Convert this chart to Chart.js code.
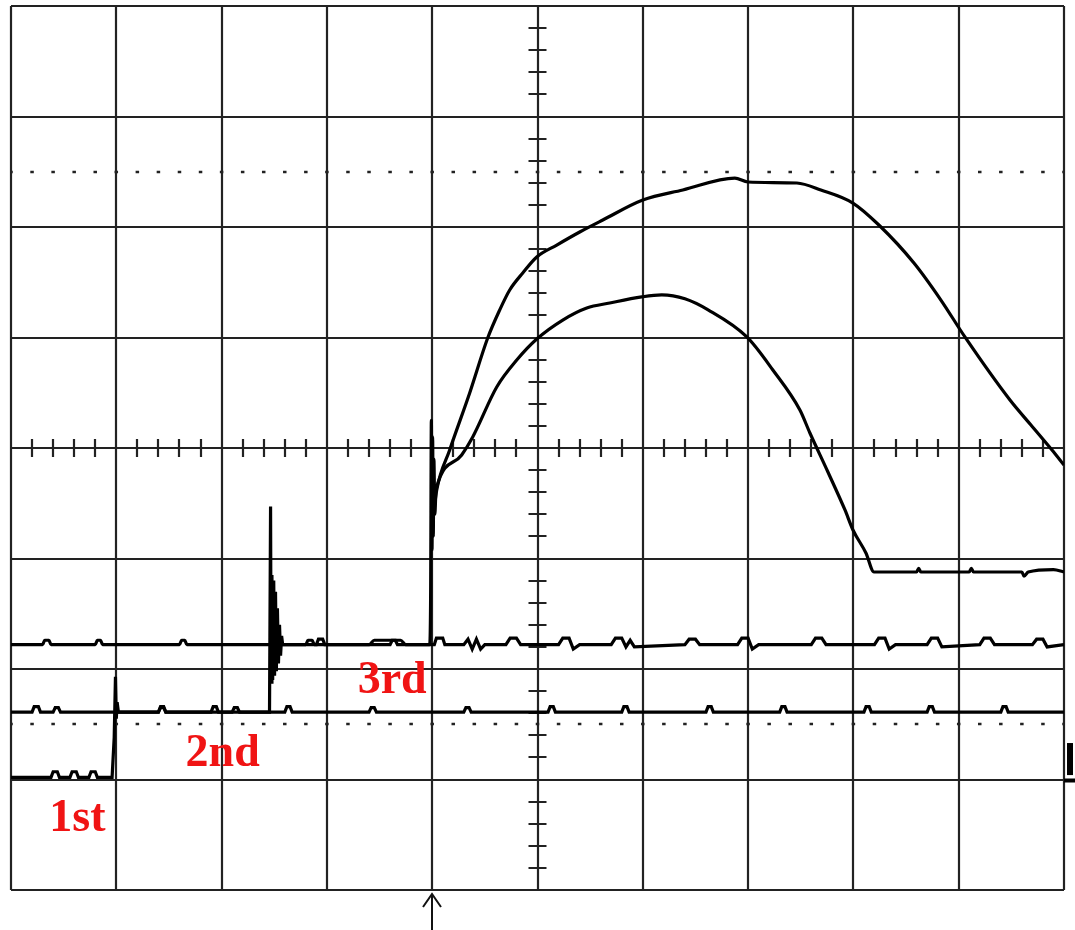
<!DOCTYPE html>
<html>
<head>
<meta charset="utf-8">
<script src="https://cdn.jsdelivr.net/npm/chart.js@4.4.1/dist/chart.umd.min.js"></script>
<style>
  html, body { margin: 0; padding: 0; background: #fff; }
</style>
</head>
<body>
<canvas id="scope" width="1075" height="930"></canvas>
<script>
// scope screen: 10 x 8 divisions, every value below is in divisions
let xMin = -5, xMax = 5, yMin = -4, yMax = 4;
let dottedLevels = [2.5, -2.5];
let triggerX = -1.005;

let labels = ['1st', '2nd', '3rd'];
let labelX = [-4.37, -2.99, -1.38];
let labelY = [-3.47, -2.88, -2.22];

// 1st trace: low level, steps up to the -2.39 line
let trace1 = [
  [-5.00,-2.98],[-4.62,-2.98],[-4.60,-2.93],[-4.56,-2.93],[-4.54,-2.98],[-4.44,-2.98],[-4.42,-2.93],
  [-4.38,-2.93],[-4.36,-2.98],[-4.26,-2.98],[-4.24,-2.93],[-4.20,-2.93],[-4.18,-2.98],[-4.04,-2.98],
  [-4.02,-2.62],[-4.008,-2.07],[-4.000,-2.45],[-3.992,-2.30],[-3.98,-2.39],
  [-3.60,-2.39],[-3.58,-2.34],[-3.55,-2.34],[-3.53,-2.39],[-3.10,-2.39],[-3.08,-2.34],[-3.05,-2.34],[-3.03,-2.39],
  [-2.40,-2.39],[-2.38,-2.34],[-2.35,-2.34],[-2.33,-2.39],[-1.60,-2.39],[-1.58,-2.35],[-1.55,-2.35],[-1.53,-2.39],
  [-0.70,-2.39],[-0.68,-2.35],[-0.65,-2.35],[-0.63,-2.39],[0.10,-2.39],[0.12,-2.34],[0.15,-2.34],[0.17,-2.39],
  [0.80,-2.39],[0.82,-2.34],[0.85,-2.34],[0.87,-2.39],[1.60,-2.39],[1.62,-2.34],[1.65,-2.34],[1.67,-2.39],
  [2.30,-2.39],[2.32,-2.34],[2.35,-2.34],[2.37,-2.39],[3.10,-2.39],[3.12,-2.34],[3.15,-2.34],[3.17,-2.39],
  [3.70,-2.39],[3.72,-2.34],[3.75,-2.34],[3.77,-2.39],[4.40,-2.39],[4.42,-2.34],[4.45,-2.34],[4.47,-2.39],
  [5.00,-2.39]
];

// 2nd trace: -2.39 line, spike, then the -1.78 line
let trace2 = [
  [-5.00,-2.39],[-4.80,-2.39],[-4.78,-2.34],[-4.74,-2.34],[-4.72,-2.39],[-4.60,-2.39],[-4.58,-2.35],
  [-4.55,-2.35],[-4.53,-2.39],[-3.60,-2.39],[-3.58,-2.35],[-3.55,-2.35],[-3.53,-2.39],[-2.90,-2.39],
  [-2.88,-2.35],[-2.85,-2.35],[-2.83,-2.39],[-2.545,-2.39],
  [-2.535,-0.53],[-2.530,-2.12],[-2.522,-1.15],[-2.515,-2.10],[-2.505,-1.20],[-2.497,-2.06],[-2.488,-1.30],
  [-2.480,-2.02],[-2.470,-1.45],[-2.460,-1.95],[-2.450,-1.60],[-2.440,-1.88],[-2.430,-1.70],[-2.420,-1.78],
  [-2.10,-1.78],[-2.08,-1.73],[-2.04,-1.73],[-2.02,-1.78],[-1.40,-1.78],[-1.38,-1.74],[-1.35,-1.74],[-1.33,-1.78],
  [-0.98,-1.78],[-0.96,-1.72],[-0.90,-1.72],[-0.88,-1.78],[-0.70,-1.78],[-0.66,-1.73],[-0.62,-1.82],
  [-0.58,-1.73],[-0.54,-1.82],[-0.50,-1.78],[-0.30,-1.78],[-0.26,-1.72],[-0.20,-1.72],[-0.16,-1.78],
  [0.20,-1.78],[0.24,-1.72],[0.30,-1.72],[0.34,-1.82],[0.40,-1.78],[0.70,-1.78],[0.74,-1.72],[0.80,-1.72],
  [0.84,-1.80],[0.88,-1.74],[0.92,-1.80],[1.40,-1.78],[1.44,-1.73],[1.50,-1.73],[1.54,-1.78],
  [1.90,-1.78],[1.94,-1.72],[2.00,-1.72],[2.04,-1.82],[2.10,-1.78],[2.60,-1.78],[2.64,-1.72],[2.70,-1.72],
  [2.74,-1.78],[3.20,-1.78],[3.24,-1.72],[3.30,-1.72],[3.34,-1.82],[3.40,-1.78],[3.70,-1.78],[3.74,-1.72],
  [3.80,-1.72],[3.84,-1.80],[4.20,-1.78],[4.24,-1.72],[4.30,-1.72],[4.34,-1.78],[4.70,-1.78],[4.74,-1.73],
  [4.80,-1.73],[4.84,-1.80],[5.00,-1.78]
];

// 3rd trace: -1.78 line, spike at trigger, small hump, settles at -1.12
let trace3 = [
  [-5.00,-1.78],[-4.70,-1.78],[-4.68,-1.74],[-4.64,-1.74],[-4.62,-1.78],[-4.20,-1.78],[-4.18,-1.74],
  [-4.15,-1.74],[-4.13,-1.78],[-3.40,-1.78],[-3.38,-1.74],[-3.35,-1.74],[-3.33,-1.78],[-2.20,-1.78],
  [-2.18,-1.74],[-2.14,-1.74],[-2.12,-1.78],[-1.60,-1.78],[-1.55,-1.74],[-1.30,-1.74],[-1.25,-1.78],
  [-1.025,-1.78],[-1.015,-1.35],[-1.008,0.25],[-1.002,-0.92],[-0.996,0.10],[-0.990,-0.80],[-0.984,-0.10],
  [-0.975,-0.60],[-0.965,-0.40],
  [-0.957,-0.353],[-0.720,-0.063],[-0.615,0.100],[-0.387,0.552],[-0.197,0.796],[-0.007,0.986],
  [0.240,1.158],[0.468,1.267],[0.686,1.312],[0.990,1.367],[1.180,1.385],[1.400,1.350],[1.620,1.250],
  [1.988,1.005],[2.235,0.706],[2.492,0.344],[2.587,0.136],[2.758,-0.217],[2.920,-0.561],[2.996,-0.742],
  [3.119,-0.950],[3.196,-1.122],
  [3.60,-1.122],[3.62,-1.09],[3.64,-1.122],[4.10,-1.122],[4.12,-1.09],[4.14,-1.122],[4.60,-1.122],
  [4.62,-1.16],[4.66,-1.122],[4.90,-1.10],[5.00,-1.122]
];

// big hump
let trace4 = [
  [-0.99,-0.62],[-0.957,-0.38],[-0.834,-0.018],[-0.644,0.498],[-0.473,0.995],[-0.359,1.249],[-0.264,1.430],
  [-0.140,1.584],[-0.007,1.729],[0.183,1.837],[0.401,1.955],[0.620,2.063],[1.000,2.244],[1.380,2.335],
  [1.874,2.443],[1.998,2.407],[2.463,2.398],[2.691,2.335],[2.995,2.217],[3.242,2.018],[3.575,1.674],
  [3.831,1.339],[4.059,1.005],[4.487,0.434],[4.686,0.208],[4.886,-0.018],[5.000,-0.154]
];

let traces = [trace1, trace2, trace3, trace4];

let scopeGrid = {
  id: 'scopeGrid',
  beforeDatasetsDraw(chart) {
    let {ctx, chartArea: a, scales: {x, y}} = chart;
    ctx.save();
    ctx.strokeStyle = '#222';
    ctx.lineWidth = 2.2;
    ctx.beginPath();
    for (let v = xMin; v <= xMax; v++) {
      let px = Math.round(x.getPixelForValue(v));
      ctx.moveTo(px, a.top); ctx.lineTo(px, a.bottom);
    }
    for (let v = yMin; v <= yMax; v++) {
      let py = Math.round(y.getPixelForValue(v));
      ctx.moveTo(a.left, py); ctx.lineTo(a.right, py);
    }
    ctx.stroke();

    // small ticks on the centre cross
    let cx = x.getPixelForValue(0), cy = y.getPixelForValue(0);
    ctx.beginPath();
    for (let k = 1; k < 50; k++) {
      if (k % 5 === 0) continue;
      let px = Math.round(x.getPixelForValue(xMin + k * 0.2));
      ctx.moveTo(px, cy - 9); ctx.lineTo(px, cy + 9);
    }
    for (let k = 1; k < 40; k++) {
      if (k % 5 === 0) continue;
      let py = Math.round(y.getPixelForValue(yMin + k * 0.2));
      ctx.moveTo(cx - 9, py); ctx.lineTo(cx + 9, py);
    }
    ctx.stroke();

    // dotted reference levels
    let step = x.width / 50;
    ctx.setLineDash([3.5, step - 3.5]);
    ctx.lineDashOffset = 1.75;
    ctx.strokeStyle = '#222';
    ctx.lineWidth = 2.5;
    ctx.beginPath();
    dottedLevels.forEach(v => {
      let py = Math.round(y.getPixelForValue(v));
      ctx.moveTo(a.left, py); ctx.lineTo(a.right, py);
    });
    ctx.stroke();
    ctx.restore();
  },
  afterDatasetsDraw(chart) {
    let {ctx, chartArea: a, scales: {x, y}} = chart;
    ctx.save();
    // trigger arrow under the screen
    let tx = Math.round(x.getPixelForValue(triggerX));
    ctx.strokeStyle = '#111';
    ctx.lineWidth = 2;
    ctx.beginPath();
    ctx.moveTo(tx, a.bottom + 4); ctx.lineTo(tx, chart.height);
    ctx.moveTo(tx - 9, a.bottom + 17); ctx.lineTo(tx, a.bottom + 4); ctx.lineTo(tx + 9, a.bottom + 17);
    ctx.stroke();

    // ground marker on the right edge
    ctx.fillStyle = '#000';
    let m1 = y.getPixelForValue(-2.67), m2 = y.getPixelForValue(-2.96), m3 = y.getPixelForValue(-3.0);
    ctx.fillRect(a.right + 3, m1, 6, m2 - m1);
    ctx.fillRect(a.right, m3 - 1, 11, 4);

    // labels
    ctx.fillStyle = '#f01414';
    ctx.font = 'bold 46px "Liberation Serif", "Times New Roman", serif';
    ctx.textAlign = 'center';
    ctx.textBaseline = 'alphabetic';
    labels.forEach((t, i) => {
      ctx.fillText(t, x.getPixelForValue(labelX[i]), y.getPixelForValue(labelY[i]));
    });
    ctx.restore();
  }
};

let ctx = document.getElementById('scope').getContext('2d');
let scopeChart = new Chart(ctx, {
  type: 'scatter',
  data: {
    datasets: traces.map((t, i) => ({
      label: 'trace ' + (i + 1),
      data: t.map(p => ({x: p[0], y: p[1]})),
      showLine: true,
      pointRadius: 0,
      borderColor: '#000',
      borderWidth: 3.2,
      tension: 0,
      cubicInterpolationMode: i >= 2 ? 'monotone' : 'default'
    }))
  },
  options: {
    responsive: false,
    animation: false,
    events: [],
    layout: {
      padding: {left: 11, right: 11, top: 6, bottom: 40}
    },
    plugins: {
      legend: {display: false},
      tooltip: {enabled: false}
    },
    scales: {
      x: {type: 'linear', min: xMin, max: xMax, display: false},
      y: {type: 'linear', min: yMin, max: yMax, display: false}
    }
  },
  plugins: [scopeGrid]
});
</script>
</body>
</html>
